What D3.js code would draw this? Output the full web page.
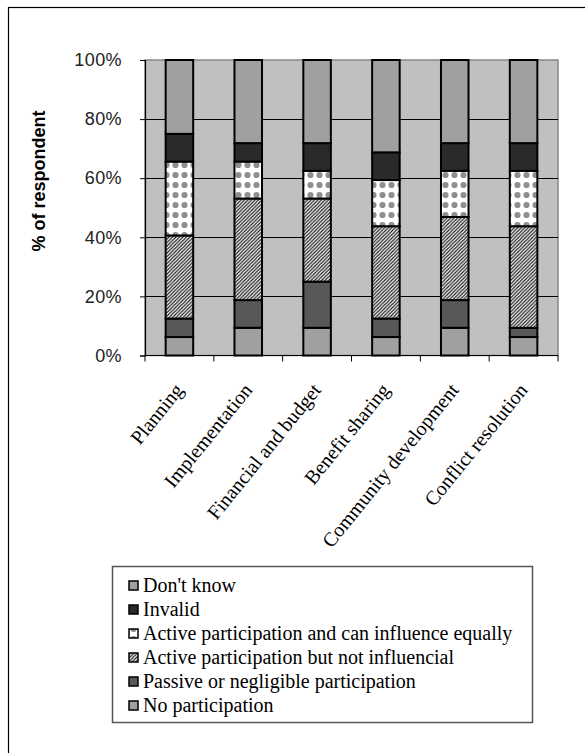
<!DOCTYPE html>
<html>
<head>
<meta charset="utf-8">
<script src="https://cdn.jsdelivr.net/npm/d3@7"></script>
<style>
  html, body { margin: 0; padding: 0; background: #fff; }
  svg { display: block; }
</style>
</head>
<body>
<svg id="chart" width="585" height="753"></svg>
<script>
// Participation stages (x categories)
const categories = ["Planning", "Implementation", "Financial and budget",
  "Benefit sharing", "Community development", "Conflict resolution"];

// Share of respondents (%) per participation level, stacked bottom to top
const noParticipation   = [6.25, 9.375, 9.375, 6.25, 9.375, 6.25];
const passive           = [6.25, 9.375, 15.625, 6.25, 9.375, 3.125];
const activeNotInfluent = [28.125, 34.375, 28.125, 31.25, 28.125, 34.375];
const activeEqually     = [25, 12.5, 9.375, 15.625, 15.625, 18.75];
const invalid           = [9.375, 6.25, 9.375, 9.375, 9.375, 9.375];
const dontKnow          = [25, 28.125, 28.125, 31.25, 28.125, 28.125];

const seriesNames = ["No participation", "Passive or negligible participation",
  "Active participation but not influencial", "Active participation and can influence equally",
  "Invalid", "Don't know"];
const seriesValues = [noParticipation, passive, activeNotInfluent, activeEqually, invalid, dontKnow];

const yTicks = [0, 20, 40, 60, 80, 100];

const svg = d3.select("#chart");

// outer frame
svg.append("rect").attr("x", 8.5).attr("y", 7.5).attr("width", 700).attr("height", 900)
  .attr("fill", "none").attr("stroke", "#000").attr("stroke-width", 1.2);

// fill patterns
const defs = svg.append("defs");
const hatch = defs.append("pattern").attr("id", "hatch").attr("patternUnits", "userSpaceOnUse")
  .attr("width", 3.5).attr("height", 3.5);
hatch.append("rect").attr("width", 3.5).attr("height", 3.5).attr("fill", "#fff");
hatch.append("path").attr("d", "M-1,1 l2,-2 M0,3.5 l3.5,-3.5 M2.5,4.5 l2,-2")
  .attr("stroke", "#1a1a1a").attr("stroke-width", 1.2);

const dots = defs.append("pattern").attr("id", "dots").attr("patternUnits", "userSpaceOnUse")
  .attr("width", 9).attr("height", 10);
dots.append("rect").attr("width", 9).attr("height", 10).attr("fill", "#fff");
dots.append("circle").attr("cx", 4.5).attr("cy", 5).attr("r", 3.1).attr("fill", "#8f8f8f");

const fills = ["#a0a0a0", "#585858", "url(#hatch)", "url(#dots)", "#2a2a2a", "#a0a0a0"];

const margin = { left: 145, top: 60, right: 558, bottom: 355.5 };

const x = d3.scaleBand().domain(categories).range([margin.left, margin.right]).paddingInner(0).paddingOuter(0);
const y = d3.scaleLinear().domain([0, 100]).range([margin.bottom, margin.top]);

// plot background
svg.append("rect").attr("x", margin.left).attr("y", margin.top)
  .attr("width", margin.right - margin.left).attr("height", margin.bottom - margin.top)
  .attr("fill", "#c0c0c0").attr("stroke", "#888").attr("stroke-width", 1.5);

// gridlines
svg.append("g").selectAll("line").data(yTicks.filter(d => d > 0 && d < 100)).join("line")
  .attr("x1", margin.left).attr("x2", margin.right)
  .attr("y1", d => Math.round(y(d)) + 0.5).attr("y2", d => Math.round(y(d)) + 0.5)
  .attr("stroke", "#000").attr("stroke-width", 1);

// stacked data
const table = categories.map((c, i) => {
  const row = { category: c };
  seriesNames.forEach((s, k) => { row[s] = seriesValues[k][i]; });
  return row;
});
const stacked = d3.stack().keys(seriesNames)(table);

const barW = x.bandwidth() * 0.4;
svg.append("g").selectAll("g").data(stacked).join("g")
  .attr("fill", (d, i) => fills[i])
  .selectAll("rect").data(d => d).join("rect")
  .attr("x", d => x(d.data.category) + (x.bandwidth() - barW) / 2)
  .attr("y", d => y(d[1]))
  .attr("width", barW)
  .attr("height", d => y(d[0]) - y(d[1]))
  .attr("stroke", "#000").attr("stroke-width", 2);

// y axis
const yAxis = svg.append("g").attr("transform", `translate(${margin.left},0)`)
  .call(d3.axisLeft(y).tickValues(yTicks).tickFormat(d => d + "%").tickSize(5).tickPadding(18));
yAxis.select(".domain").attr("stroke", "#000").attr("stroke-width", 1.2);
yAxis.selectAll("text").attr("font-family", "Liberation Sans, Arial, sans-serif")
  .attr("font-size", 18).attr("fill", "#222").attr("letter-spacing", 0.4);

// x axis: ticks at band boundaries
const xAxis = svg.append("g").attr("transform", `translate(0,${margin.bottom})`);
xAxis.append("line").attr("x1", margin.left).attr("x2", margin.right)
  .attr("stroke", "#000").attr("stroke-width", 1.2);
const boundaries = categories.map(c => x(c)).concat([margin.right]);
xAxis.selectAll("line.tick").data(boundaries).join("line").attr("class", "tick")
  .attr("x1", d => d).attr("x2", d => d).attr("y1", 0).attr("y2", 6)
  .attr("stroke", "#000").attr("stroke-width", 1);
xAxis.selectAll("text").data(categories).join("text")
  .attr("transform", d => `translate(${x(d) + x.bandwidth() / 2 + 5},${35}) rotate(-51)`)
  .attr("text-anchor", "end")
  .attr("font-family", "Liberation Serif, Times New Roman, serif")
  .attr("font-size", 20).attr("fill", "#000")
  .text(d => d);

// y axis title
svg.append("text")
  .attr("transform", "translate(45,181) rotate(-90)")
  .attr("text-anchor", "middle")
  .attr("font-family", "Liberation Sans, Arial, sans-serif")
  .attr("font-size", 18).attr("font-weight", "bold").attr("fill", "#000")
  .text("% of respondent");

// legend (top entry = top of stack)
const legend = svg.append("g");
legend.append("rect").attr("x", 112.5).attr("y", 566.5).attr("width", 420).attr("height", 156)
  .attr("fill", "#fff").attr("stroke", "#555").attr("stroke-width", 1.5);
const legendItems = seriesNames.map((s, i) => ({ name: s, fill: fills[i] })).reverse();
const li = legend.selectAll("g.item").data(legendItems).join("g").attr("class", "item")
  .attr("transform", (d, i) => `translate(129,${586 + i * 24})`);
li.append("rect").attr("x", 0).attr("y", -5).attr("width", 9).attr("height", 9)
  .attr("fill", d => d.fill).attr("stroke", "#000").attr("stroke-width", 1.5);
li.append("text").attr("x", 14).attr("y", 6)
  .attr("font-family", "Liberation Serif, Times New Roman, serif")
  .attr("font-size", 20).attr("fill", "#000")
  .text(d => d.name);
</script>
</body>
</html>
